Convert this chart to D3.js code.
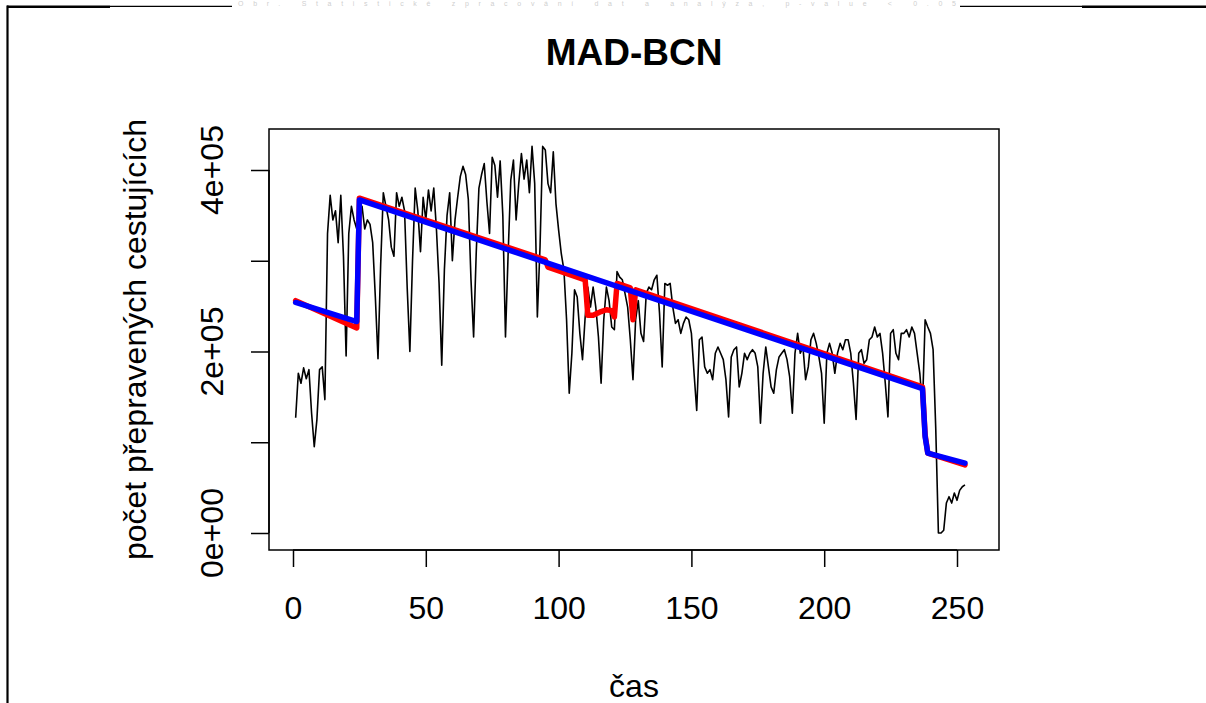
<!DOCTYPE html>
<html>
<head>
<meta charset="utf-8">
<script src="https://cdn.jsdelivr.net/npm/d3@7"></script>
<style>
  html, body { margin: 0; padding: 0; background: #fff; }
  svg { display: block; }
  text { font-family: "Liberation Sans", Arial, sans-serif; }
</style>
</head>
<body>
<svg id="chart" width="1206" height="703"></svg>
<script>
// ---------------- data ----------------
const chartTitle = "MAD-BCN";
const xTitle = "čas";
const yTitle = "počet přepravených cestujících";
const topCaption = "Obr. Statistické zpracování dat a analýza, p-value < 0.05";

const xTicks = [0, 50, 100, 150, 200, 250];
const yTicks = [0, 100000, 200000, 300000, 400000];
const yLabelValues = [0, 200000, 400000];
const yLabelTexts = ["0e+00", "2e+05", "4e+05"];

// observed passengers (thousands), t = 1..253
const passengersK = [
  127,176,165,182,170,180,132,95,125,180,183,147,
  330,372,345,355,320,372,305,195,330,360,345,335,
  350,360,335,345,340,320,260,192,295,375,360,345,
  315,305,375,360,370,355,270,200,300,380,355,310,
  370,345,378,355,380,335,275,185,290,350,375,300,
  345,370,393,404,395,368,280,216,310,380,395,407,
  365,330,414,405,370,410,350,216,308,389,411,345,
  385,418,390,411,375,426,385,238,315,426,422,385,
  375,420,363,334,308,290,235,154,198,268,260,220,
  191,238,271,249,271,249,216,165,235,271,256,227,
  224,288,282,279,264,249,213,169,235,256,220,211,
  264,271,268,279,284,242,183,275,273,275,249,231,
  235,220,231,238,235,220,176,135,213,216,183,176,
  180,169,198,205,198,191,169,128,194,202,205,161,
  176,198,191,198,202,198,183,121,176,205,183,161,
  154,180,194,198,202,191,172,132,198,220,198,205,
  169,183,213,220,209,194,176,121,198,209,198,176,
  198,209,202,213,213,198,165,125,198,202,187,191,
  213,216,227,216,220,198,165,128,220,224,198,191,
  220,220,224,216,227,220,198,176,139,235,227,220,
  202,115,0,0,3,33,40,33,44,36,47,51,53
];

// fitted model vertices (red)
const redT = [1, 24, 25, 95, 96, 110, 111, 113, 116, 118, 120, 121, 122, 127, 128, 129, 237, 238, 239, 253];
const redK = [256, 226, 369, 301, 293, 279, 240, 240, 244, 246, 245, 238, 275, 270, 235, 268, 161, 108, 88, 75];

// fitted model vertices (blue)
const blueT = [1, 24, 25, 237, 238, 239, 253];
const blueK = [254, 233, 367, 159, 106, 88, 77];

// ---------------- layout ----------------
const svg = d3.select("#chart");
const box = { left: 269, right: 999, top: 129, bottom: 550 };

const x = d3.scaleLinear().domain([0, 250]).range([293, 957]);
const y = d3.scaleLinear().domain([0, 400000]).range([533, 170]);

const FONT = 32;

// top decoration (page edge of the original document)
const deco = svg.append("g");
deco.append("text")
  .attr("x", 238).attr("y", 6)
  .attr("text-anchor", "start")
  .attr("font-size", 7)
  .attr("textLength", 718).attr("lengthAdjust", "spacing")
  .attr("fill", "#cfcfcf")
  .text(topCaption);
deco.append("line").attr("x1", 7.5).attr("x2", 7.5).attr("y1", 5.5).attr("y2", 703)
  .attr("stroke", "#000").attr("stroke-width", 2.2);
deco.append("line").attr("x1", 7).attr("x2", 110).attr("y1", 6.8).attr("y2", 6.8)
  .attr("stroke", "#000").attr("stroke-width", 2.4);
deco.append("line").attr("x1", 110).attr("x2", 232).attr("y1", 6.3).attr("y2", 6.3)
  .attr("stroke", "#000").attr("stroke-width", 1.2);
deco.append("line").attr("x1", 960).attr("x2", 1082).attr("y1", 6.3).attr("y2", 6.3)
  .attr("stroke", "#000").attr("stroke-width", 1.2);
deco.append("line").attr("x1", 1082).attr("x2", 1206).attr("y1", 6.8).attr("y2", 6.8)
  .attr("stroke", "#000").attr("stroke-width", 2.4);

// title
svg.append("text")
  .attr("x", (box.left + box.right) / 2).attr("y", 65)
  .attr("text-anchor", "middle")
  .attr("font-size", 37).attr("font-weight", "bold")
  .attr("fill", "#000")
  .text(chartTitle);

// series
const pts = passengersK.map((v, i) => ({ t: i + 1, v: v * 1000 }));
const line = d3.line().x(d => x(d.t)).y(d => y(d.v));

svg.append("path")
  .datum(pts)
  .attr("d", line)
  .attr("fill", "none").attr("stroke", "#000")
  .attr("stroke-width", 1.6).attr("stroke-linejoin", "round");

const redPts = redT.map((t, i) => ({ t, v: redK[i] * 1000 }));
const bluePts = blueT.map((t, i) => ({ t, v: blueK[i] * 1000 }));

svg.append("path")
  .datum(redPts)
  .attr("d", line)
  .attr("fill", "none").attr("stroke", "#ff0000")
  .attr("stroke-width", 5.5).attr("stroke-linejoin", "round").attr("stroke-linecap", "round");

svg.append("path")
  .datum(bluePts)
  .attr("d", line)
  .attr("fill", "none").attr("stroke", "#0000ff")
  .attr("stroke-width", 5.5).attr("stroke-linejoin", "round").attr("stroke-linecap", "round");

// box
svg.append("rect")
  .attr("x", box.left).attr("y", box.top)
  .attr("width", box.right - box.left).attr("height", box.bottom - box.top)
  .attr("fill", "none").attr("stroke", "#000").attr("stroke-width", 1.5);

// x axis
const xAxis = d3.axisBottom(x).tickValues(xTicks).tickSize(17).tickPadding(29).tickFormat(d3.format("d"));
const gx = svg.append("g").attr("transform", `translate(0,${box.bottom})`).call(xAxis);
gx.select(".domain").attr("d", `M${x(0)},0H${x(250)}`).attr("stroke-width", 1.5);
gx.selectAll(".tick line").attr("stroke-width", 1.5);
gx.selectAll(".tick text")
  .attr("font-size", FONT).attr("font-family", "Liberation Sans, Arial, sans-serif")
  .attr("fill", "#000");

// y axis
const yAxis = d3.axisLeft(y).tickValues(yTicks).tickSize(18).tickFormat(() => "");
const gy = svg.append("g").attr("transform", `translate(${box.left},0)`).call(yAxis);
gy.select(".domain").attr("d", `M0,${y(0)}V${y(400000)}`).attr("stroke-width", 1.5);
gy.selectAll(".tick line").attr("stroke-width", 1.5);

svg.append("g").selectAll("text")
  .data(yLabelValues)
  .join("text")
  .attr("transform", (d) => `translate(223,${y(d)}) rotate(-90)`)
  .attr("text-anchor", "middle")
  .attr("font-size", FONT).attr("fill", "#000")
  .text((d, i) => yLabelTexts[i]);

// axis titles
svg.append("text")
  .attr("x", (box.left + box.right) / 2).attr("y", 697)
  .attr("text-anchor", "middle")
  .attr("font-size", FONT).attr("fill", "#000")
  .text(xTitle);

svg.append("text")
  .attr("transform", `translate(146,${(box.top + box.bottom) / 2}) rotate(-90)`)
  .attr("text-anchor", "middle")
  .attr("font-size", FONT).attr("fill", "#000")
  .text(yTitle);
</script>
</body>
</html>
